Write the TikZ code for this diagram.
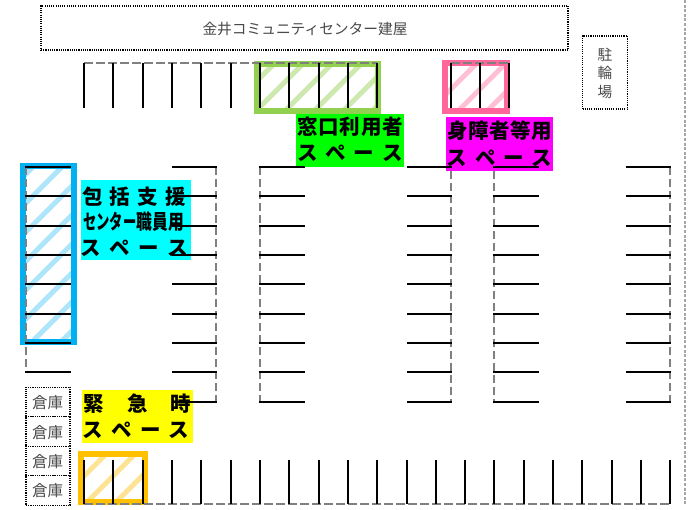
\documentclass[tikz,border=0pt]{standalone}
\usepackage{fontspec}
\setmainfont{Noto Sans CJK JP}
\newfontfamily\jpb{Noto Sans CJK JP Black}
\definecolor{dgray}{HTML}{808080}
\definecolor{lgray}{HTML}{A6A6A6}
\definecolor{txtg}{HTML}{4A4A4A}
\definecolor{labc}{HTML}{00FFFF}
\definecolor{labg}{HTML}{00FF00}
\definecolor{labm}{HTML}{FF00FF}
\definecolor{laby}{HTML}{FFFF00}
\definecolor{stg}{HTML}{CDE9B0}
\definecolor{frg}{HTML}{92D050}
\definecolor{stp}{HTML}{FFC0D5}
\definecolor{frp}{HTML}{FF6699}
\definecolor{stb}{HTML}{ADE5FB}
\definecolor{frb}{HTML}{00B0F0}
\definecolor{sto}{HTML}{FFE394}
\definecolor{fro}{HTML}{FFC000}
\tikzset{
  stall/.style={draw=black,line width=1.6pt},
  aisle/.style={draw=dgray,line width=2.3pt,dash pattern=on 8.5pt off 3.5pt},
  border/.style={draw=lgray,line width=2.2pt,dash pattern=on 3pt off 1.6pt},
  dotbox/.style={draw=black,line width=1.1pt,dash pattern=on 1.1pt off 1.1pt,fill=white},
  plain/.style={font=\fontsize{14.7}{16}\selectfont,text=txtg,inner sep=0pt},
  small/.style={font=\fontsize{15.5}{16}\selectfont,text=txtg,inner sep=0pt},
  big/.style={font=\jpb\fontsize{20.5}{21}\selectfont,text=black,inner sep=0pt,anchor=center},
}
% hatch: #1 stripe colour, #2 frame colour, #3..#6 x0,y0,x1,y1, #7 phase (x+y of a stripe)
\newcommand{\hatchframe}[7]{%
  \begin{scope}
    \clip (#3,#4) rectangle (#5,#6);
    \foreach \k in {-12,...,12}{
      \fill[fill=#1] ({#7+29*\k-#6-3.5},#6) -- ({#7+29*\k-#6+3.5},#6) -- ({#7+29*\k-#4+3.5},#4) -- ({#7+29*\k-#4-3.5},#4) -- cycle;
    }
  \end{scope}
  \draw[draw=#2,line width=5.8pt] (#3,#4) rectangle (#5,#6);
}
\begin{document}
\begin{tikzpicture}[x=1pt,y=-1pt]
\useasboundingbox (0,0) rectangle (696,510);
\fill[white] (0,0) rectangle (696,510);

% label backgrounds
\fill[labc] (81,180) rectangle (191,260);
\fill[labg] (296,114) rectangle (404,167);
\fill[labm] (446,117) rectangle (553,171);
\fill[laby] (82,390) rectangle (193,443);

% reserved bays
\hatchframe{stg}{frg}{257}{64}{378}{111}{367}
\hatchframe{stp}{frp}{445}{63}{507}{111}{540}
\hatchframe{stb}{frb}{23}{166}{74}{342}{200}
\hatchframe{sto}{fro}{81}{454}{145}{502}{560}

% boundary
\draw[border] (685,0) -- (685,505);

% aisles
\draw[aisle] (84,63) -- (377,63);
\draw[aisle] (451,63) -- (509,63);
\draw[aisle] (84,504) -- (670,504);
\draw[aisle] (26,167) -- (26,372);
\draw[aisle] (216,167) -- (216,402);
\draw[aisle] (260,167) -- (260,402);
\draw[aisle] (451,171) -- (451,402);
\draw[aisle] (494,171) -- (494,402);
\draw[aisle] (670,167) -- (670,402);

% top row
\foreach \x in {84,113,143,172,201,231,260,289,319,348,377,451,480,509}
  \draw[stall] (\x,63) -- (\x,108.5);
% bottom row
\foreach \x in {84,113,143,172,201,231,260,289,319,348,377,407,436,465,494,524,553,582,612,641,670}
  \draw[stall] (\x,460) -- (\x,504);
% left column
\foreach \y in {167,196,226,255,284,314,343,372}
  \draw[stall] (25,\y) -- (71,\y);
% inner columns
\foreach \y in {167,196,226,255,284,314,343,372,402}{
  \draw[stall] (172,\y) -- (217,\y);
  \draw[stall] (259,\y) -- (305,\y);
  \draw[stall] (407,\y) -- (452,\y);
  \draw[stall] (493,\y) -- (539,\y);
  \draw[stall] (626,\y) -- (671,\y);
}

% buildings
\node[dotbox,minimum width=527pt,minimum height=44pt,inner sep=0pt] (bldg) at (304.5,28) {};
\node[plain] (bldgt) at (305,29) {金井コミュニティセンター建屋};
\node[dotbox,minimum width=45pt,minimum height=73pt,inner sep=0pt] (bike) at (605,72.5) {};
\node[plain] (bike1) at (605,55) {駐};
\node[plain] (bike2) at (605,73) {輪};
\node[plain] (bike3) at (605,92) {場};
\node[dotbox,minimum width=44pt,minimum height=29.5pt,inner sep=0pt] (s1) at (48,402) {};
\node[dotbox,minimum width=44pt,minimum height=29.5pt,inner sep=0pt] (s2) at (48,431.5) {};
\node[dotbox,minimum width=44pt,minimum height=29.5pt,inner sep=0pt] (s3) at (48,461) {};
\node[dotbox,minimum width=44pt,minimum height=29.5pt,inner sep=0pt] (s4) at (48,490.5) {};
\node[small] (st1) at (47.5,403) {倉庫};
\node[small] (st2) at (47.5,433) {倉庫};
\node[small] (st3) at (47.5,462) {倉庫};
\node[small] (st4) at (47.5,491) {倉庫};

% labels
\node[big] (c1) at (134,197) {\makebox[104pt][s]{包\hfill 括\hfill 支\hfill 援}};
\node[big] (c2) at (133.5,222) {\scalebox{0.65}[1]{センター}\scalebox{0.77}[1]{職員用}};
\node[big] (c3) at (134.5,248) {\makebox[108pt][s]{ス\hfill ペ\hfill ー\hfill ス}};
\node[big] (g1) at (350,127) {\makebox[106pt][s]{窓\hfill 口\hfill 利\hfill 用\hfill 者}};
\node[big] (g2) at (350,153) {\makebox[106pt][s]{ス\hfill ペ\hfill ー\hfill ス}};
\node[big] (m1) at (499.5,131) {\makebox[105pt][s]{身\hfill 障\hfill 者\hfill 等\hfill 用}};
\node[big] (m2) at (499.5,158) {\makebox[106pt][s]{ス\hfill ペ\hfill ー\hfill ス}};
\node[big] (y1) at (137.5,404) {\makebox[108pt][s]{緊\hfill 急\hfill 時}};
\node[big] (y2) at (136,430) {\makebox[107pt][s]{ス\hfill ペ\hfill ー\hfill ス}};
\end{tikzpicture}
\end{document}
